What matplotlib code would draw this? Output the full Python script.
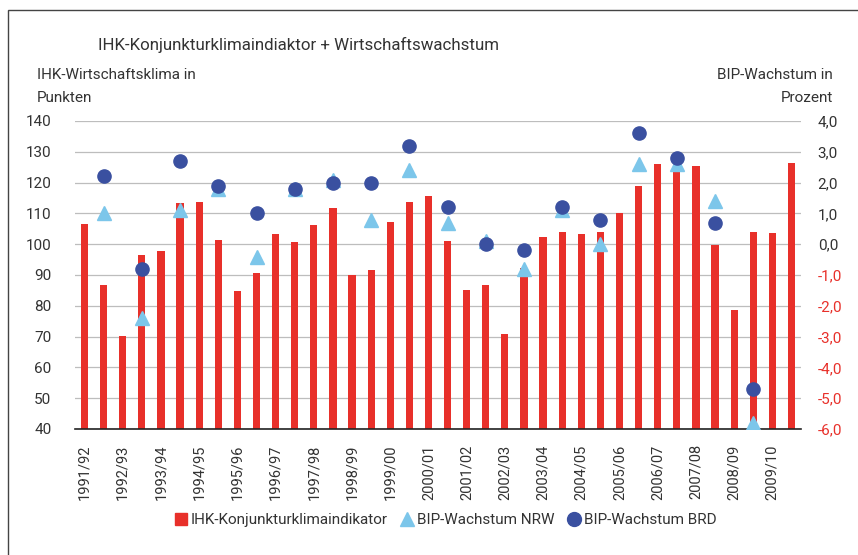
import matplotlib
matplotlib.use("Agg")
from matplotlib import pyplot as plt
from matplotlib.patches import Rectangle
from matplotlib.lines import Line2D
import numpy as np

# two readings per year (spring / autumn), labels on the first one
years = ["1991/92", "1992/93", "1993/94", "1994/95", "1995/96", "1996/97",
         "1997/98", "1998/99", "1999/00", "2000/01", "2001/02", "2002/03",
         "2003/04", "2004/05", "2005/06", "2006/07", "2007/08", "2008/09",
         "2009/10"]

klima = [106.4, 86.7, 70.2, 96.6, 97.7, 113.3, 113.8, 101.3, 84.7, 90.6,
         103.4, 100.8, 106.3, 111.8, 89.9, 91.6, 107.1, 113.8, 115.8, 101.2,
         85.2, 86.6, 70.9, 92.3, 102.3, 103.9, 103.3, 104.0, 110.1, 118.9,
         126.1, 123.6, 125.5, 99.9, 78.6, 103.8, 103.6, 126.3]

# GDP growth, one value per year (plotted on the second reading)
bip_nrw = [1.0, -2.4, 1.1, 1.8, -0.4, 1.8, 2.1, 0.8, 2.4, 0.7, 0.1, -0.8,
           1.1, 0.0, 2.6, 2.6, 1.4, -5.8]
bip_brd = [2.2, -0.8, 2.7, 1.9, 1.0, 1.8, 2.0, 2.0, 3.2, 1.2, 0.0, -0.2,
           1.2, 0.8, 3.6, 2.8, 0.7, -4.7]

RED = "#e8302a"
LIGHT = "#7cc6ea"
DARK = "#3a50a0"
TXT = "#333333"

plt.rcParams['font.family'] = ["Roboto", "DejaVu Sans"]

fig = plt.figure(figsize=(8.58, 5.55), dpi=100)
ax = fig.add_axes([75 / 858, 1 - 429 / 555, 726 / 858, 308 / 555])

x = np.arange(len(klima))
ax.bar(x, np.array(klima) - 40, bottom=40, width=0.38, color=RED, zorder=2)
ax.set_ylim(40, 140)
ax.set_xlim(-0.5, len(klima) - 0.5)
ax.set_yticks(np.arange(40, 141, 10))
ax.yaxis.grid(True, color="#bdbdbd", linewidth=0.9, zorder=0)
ax.set_axisbelow(True)
ax.set_xticks(x[::2])
ax.set_xticklabels(years, rotation=90, fontsize=10.5, color=TXT)
ax.tick_params(axis="y", length=0, labelsize=11, labelcolor=TXT, pad=17)
ax.tick_params(axis="x", length=0, labelcolor=TXT, pad=11)
for s in ["top", "right", "left"]:
    ax.spines[s].set_visible(False)
ax.spines["bottom"].set_color("#222222")
ax.spines["bottom"].set_linewidth(1.2)
ax.spines["bottom"].set_zorder(4)

ax2 = ax.twinx()
ax2.set_ylim(-6, 4)
ax2.set_yticks(np.arange(-6, 4.1, 1))
ax2.set_yticklabels([f"{v:.1f}".replace(".", ",") for v in np.arange(-6, 4.1, 1)])
ax2.tick_params(axis="y", length=0, labelsize=11, pad=12)
for v, lab in zip(np.arange(-6, 4.1, 1), ax2.get_yticklabels()):
    lab.set_color(RED if v < 0 else TXT)
for s in ax2.spines.values():
    s.set_visible(False)

xm = x[1::2][:len(bip_brd)]
ax2.plot(xm, bip_nrw, linestyle="none", marker="^", markersize=9.5,
         color=LIGHT, zorder=3)
ax2.plot(xm, bip_brd, linestyle="none", marker="o", markersize=9.5,
         color=DARK, zorder=4)

fig.text(98 / 858, 1 - 45 / 555, "IHK-Konjunkturklimaindiaktor + Wirtschaftswachstum",
         fontsize=12.2, color=TXT, va="center")
fig.text(37 / 858, 1 - 75 / 555, "IHK-Wirtschaftsklima in", fontsize=11,
         color=TXT, va="center")
fig.text(37 / 858, 1 - 98 / 555, "Punkten", fontsize=11, color=TXT, va="center")
fig.text(833 / 858, 1 - 75 / 555, "BIP-Wachstum in", fontsize=11,
         color=TXT, va="center", ha="right")
fig.text(833 / 858, 1 - 98 / 555, "Prozent", fontsize=11, color=TXT,
         va="center", ha="right")

handles = [
    Line2D([], [], linestyle="none", marker="s", markersize=9, color=RED),
    Line2D([], [], linestyle="none", marker="^", markersize=10, color=LIGHT),
    Line2D([], [], linestyle="none", marker="o", markersize=10, color=DARK),
]
labels = ["IHK-Konjunkturklimaindikator", "BIP-Wachstum NRW", "BIP-Wachstum BRD"]
fig.legend(handles, labels, loc="center", bbox_to_anchor=(446 / 858, 1 - 520 / 555),
           ncol=3, frameon=False, fontsize=11, handlelength=0.7,
           handletextpad=0.3, columnspacing=0.9, labelcolor=TXT)

# thin frame around the whole chart (right and bottom edges fall outside)
fig.patches.append(Rectangle((8 / 858, -0.1), 1.0, 1 - 10 / 555 + 0.1,
                             transform=fig.transFigure, fill=False,
                             edgecolor="#444444", linewidth=1.0))

fig.savefig("out.png", dpi=100)
